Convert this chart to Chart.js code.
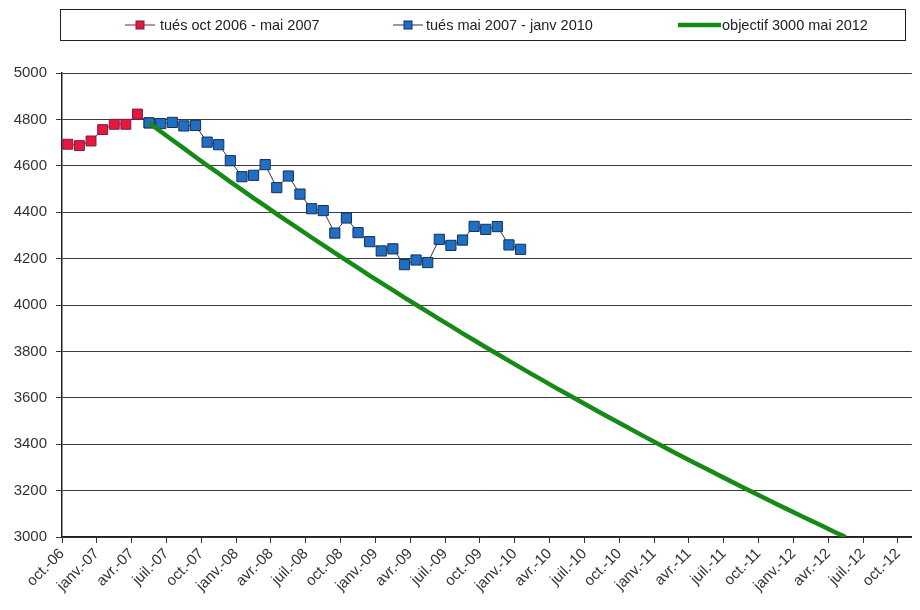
<!DOCTYPE html>
<html><head><meta charset="utf-8">
<script src="https://cdn.jsdelivr.net/npm/chart.js@4"></script>
<style>html,body{margin:0;padding:0;background:#fff}</style>
</head><body>
<canvas id="c" width="920" height="610"></canvas>
<script>
// Tick labels on the month axis (every 3 months, starting oct. 2006)
const tickLabels = ['oct.-06','janv.-07','avr.-07','juil.-07','oct.-07','janv.-08','avr.-08','juil.-08','oct.-08','janv.-09','avr.-09','juil.-09','oct.-09','janv.-10','avr.-10','juil.-10','oct.-10','janv.-11','avr.-11','juil.-11','oct.-11','janv.-12','avr.-12','juil.-12','oct.-12'];
const monthsPerTick = 3;

const seriesNames = ['tués oct 2006 - mai 2007', 'tués mai 2007 - janv 2010', 'objectif 3000 mai 2012'];

// killed, oct 2006 .. mai 2007 (month index 0 = oct. 2006)
const killed0607Start = 0;
const killed0607 = [4693, 4687, 4707, 4756, 4779, 4779, 4823, 4785];

// killed, mai 2007 .. janv 2010
const killed0710Start = 7;
const killed0710 = [4785, 4782, 4787, 4772, 4774, 4702, 4691, 4622, 4553, 4559, 4605, 4506, 4556, 4478, 4415, 4407, 4310, 4375, 4312, 4273, 4233, 4242, 4174, 4194, 4183, 4283, 4257, 4280, 4339, 4326, 4338, 4259, 4240];

// objective: 3000 by mai 2012, monthly from mai 2007
const objectiveStart = 7;
const objective = [4785, 4748, 4711, 4675, 4638, 4602, 4567, 4531, 4496, 4461, 4427, 4392, 4358, 4325, 4291, 4258, 4225, 4192, 4160, 4127, 4095, 4064, 4032, 4001, 3970, 3939, 3909, 3878, 3848, 3818, 3789, 3759, 3730, 3701, 3673, 3644, 3616, 3588, 3560, 3532, 3505, 3478, 3451, 3424, 3398, 3371, 3345, 3319, 3294, 3268, 3243, 3218, 3193, 3168, 3143, 3119, 3095, 3071, 3047, 3023, 3000];

const yMin = 3000, yMax = 5000, yStep = 200;

const toPoints = (values, start) => values.map((v, k) => ({ x: start + k + 0.5, y: v }));

const legendPlugin = {
  id: 'boxLegend',
  afterDraw(chart) {
    const ctx = chart.ctx;
    ctx.save();
    ctx.strokeStyle = '#222';
    ctx.lineWidth = 1;
    ctx.strokeRect(60.5, 9.5, 845, 31);
    const items = [
      { ds: 0, sx: 125, sw: 30, tx: 160 },
      { ds: 1, sx: 393, sw: 30, tx: 426 },
      { ds: 2, sx: 678, sw: 43, tx: 722 }
    ];
    const cy = 25;
    ctx.font = '14.5px "Liberation Sans", Arial, sans-serif';
    ctx.textBaseline = 'middle';
    items.forEach(it => {
      const d = chart.data.datasets[it.ds];
      ctx.beginPath();
      ctx.strokeStyle = d.borderColor;
      ctx.lineWidth = d.borderWidth;
      ctx.moveTo(it.sx, cy);
      ctx.lineTo(it.sx + it.sw, cy);
      ctx.stroke();
      if (d.pointRadius > 0) {
        const s = 8;
        ctx.fillStyle = d.pointBackgroundColor;
        ctx.strokeStyle = d.pointBorderColor;
        ctx.lineWidth = 1;
        ctx.fillRect(it.sx + it.sw / 2 - s / 2, cy - s / 2, s, s);
        ctx.strokeRect(it.sx + it.sw / 2 - s / 2, cy - s / 2, s, s);
      }
      ctx.fillStyle = '#222';
      ctx.fillText(d.label, it.tx, cy + 1);
    });
    ctx.restore();
  }
};

new Chart(document.getElementById('c'), {
  type: 'line',
  data: {
    datasets: [
      {
        label: seriesNames[0],
        data: toPoints(killed0607, killed0607Start),
        borderColor: '#7a1a4a',
        borderWidth: 1,
        pointStyle: 'rect',
        pointRadius: 7,
        pointBackgroundColor: '#e8173c',
        pointBorderColor: '#7a1a4a',
        pointBorderWidth: 1,
        order: 2
      },
      {
        label: seriesNames[1],
        data: toPoints(killed0710, killed0710Start),
        borderColor: '#2a3448',
        borderWidth: 1,
        pointStyle: 'rect',
        pointRadius: 7.2,
        pointBackgroundColor: '#1f6fc4',
        pointBorderColor: '#16305a',
        pointBorderWidth: 1,
        order: 1
      },
      {
        label: seriesNames[2],
        data: toPoints(objective, objectiveStart),
        borderColor: '#168a16',
        borderWidth: 4.5,
        pointRadius: 0,
        order: 0
      }
    ]
  },
  options: {
    responsive: false,
    animation: false,
    devicePixelRatio: 1,
    layout: { padding: { top: 73, right: 0, bottom: 0, left: 0 } },
    plugins: { legend: { display: false }, tooltip: { enabled: false } },
    elements: { line: { tension: 0 } },
    scales: {
      x: {
        type: 'linear',
        min: 0,
        max: 73.2,
        afterBuildTicks(scale) {
          scale.ticks = tickLabels.map((t, k) => ({ value: k * monthsPerTick }));
        },
        afterFit(scale) { scale.height = 73; },
        grid: { drawOnChartArea: false, drawTicks: true, tickLength: 6, color: '#333' },
        border: { display: true, color: '#222', width: 1.5 },
        ticks: {
          autoSkip: false,
          maxRotation: 45,
          minRotation: 45,
          padding: 2,
          color: '#333',
          font: { family: '"Liberation Sans", Arial, sans-serif', size: 15 },
          callback: (v, i) => tickLabels[i]
        }
      },
      y: {
        min: yMin,
        max: yMax,
        afterFit(scale) { scale.width = 62; },
        grid: { color: '#3c3c3c', lineWidth: 1, tickLength: 6 },
        border: { display: true, color: '#222', width: 1.5 },
        ticks: {
          stepSize: yStep,
          padding: 9,
          color: '#333',
          font: { family: '"Liberation Sans", Arial, sans-serif', size: 15 },
          callback: v => String(v)
        }
      }
    }
  },
  plugins: [legendPlugin]
});
</script>
</body></html>
